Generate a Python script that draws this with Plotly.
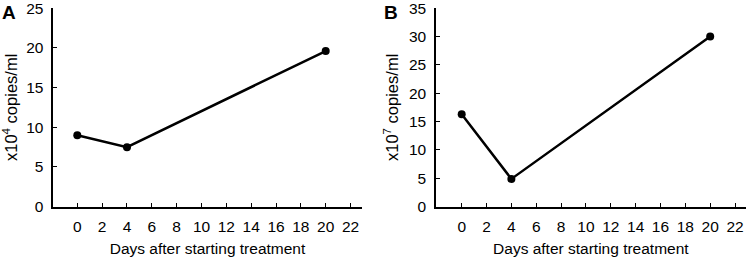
import plotly.graph_objects as go

days = [0, 4, 20]
load_a = [9.0, 7.5, 19.6]      # x10^4 copies/ml
load_b = [16.3, 4.9, 30.0]     # x10^7 copies/ml
x_ticks = list(range(0, 23, 2))
y_ticks_a = [0, 5, 10, 15, 20, 25]
y_ticks_b = [0, 5, 10, 15, 20, 25, 30, 35]

FONT = "Liberation Sans, Arial, sans-serif"

fig = go.Figure()
fig.add_trace(go.Scatter(x=days, y=load_a, mode="lines+markers",
                         line=dict(color="black", width=2.5),
                         marker=dict(color="black", size=8),
                         xaxis="x", yaxis="y", showlegend=False, cliponaxis=False))
fig.add_trace(go.Scatter(x=days, y=load_b, mode="lines+markers",
                         line=dict(color="black", width=2.5),
                         marker=dict(color="black", size=8),
                         xaxis="x2", yaxis="y2", showlegend=False, cliponaxis=False))

xcommon = dict(tickmode="array", tickvals=x_ticks, ticks="inside", ticklen=4,
               tickwidth=1.3, tickcolor="black", showline=True, linecolor="black",
               linewidth=1.5, showgrid=False, zeroline=False, automargin=False,
               ticklabeloverflow="allow",
               tickfont=dict(size=15.5, color="black", family=FONT),
               ticklabelstandoff=5,
               title=dict(text="Days after starting treatment", standoff=9,
                          font=dict(size=15.5, color="black", family=FONT)))
ycommon = dict(ticks="inside", ticklen=4, tickwidth=1.3, tickcolor="black",
               showline=True, linecolor="black", linewidth=1.5, showgrid=False,
               zeroline=False, automargin=False, ticklabeloverflow="allow",
               tickfont=dict(size=15.5, color="black", family=FONT),
               ticklabelstandoff=5)

ydom = [0.1957, 0.9689]
fig.update_layout(
    width=750, height=257,
    margin=dict(l=0, r=0, t=0, b=0),
    paper_bgcolor="white", plot_bgcolor="white",
    font=dict(family=FONT, color="black"),
    xaxis=dict(domain=[0.0711, 0.4823], range=[-1.93, 22.9], anchor="y", **xcommon),
    yaxis=dict(domain=ydom, range=[0, 25.02], tickvals=y_ticks_a, anchor="x",
               title=dict(text="x10<sup>4</sup> copies/ml", standoff=12,
                          font=dict(size=16.5, color="black", family=FONT)),
               **ycommon),
    xaxis2=dict(domain=[0.5813, 0.9943], range=[-2.07, 22.86], anchor="y2", **xcommon),
    yaxis2=dict(domain=ydom, range=[0, 35.02], tickvals=y_ticks_b, anchor="x2",
                title=dict(text="x10<sup>7</sup> copies/ml", standoff=6.5,
                           font=dict(size=16.5, color="black", family=FONT)),
                **ycommon),
    annotations=[
        dict(text="<b>A</b>", x=9 / 750, y=1 - 12 / 257, xref="paper", yref="paper",
             xanchor="center", yanchor="middle",
             showarrow=False, font=dict(size=19, color="black", family=FONT)),
        dict(text="<b>B</b>", x=391 / 750, y=1 - 12 / 257, xref="paper", yref="paper",
             xanchor="center", yanchor="middle",
             showarrow=False, font=dict(size=19, color="black", family=FONT)),
    ],
)

fig.write_html("out.html", config={"displayModeBar": False},
               post_script="document.body.style.margin='0';document.body.style.padding='0';")
